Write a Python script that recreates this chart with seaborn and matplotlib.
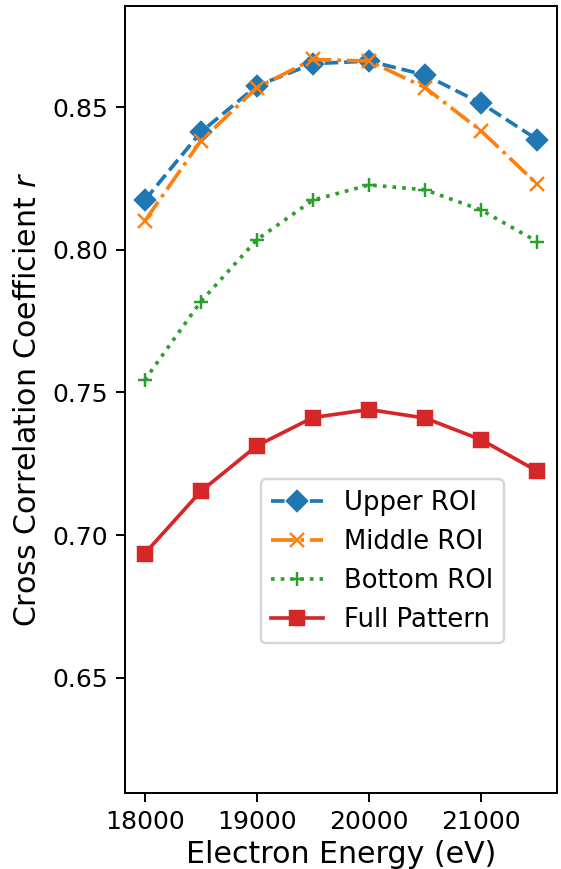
import matplotlib
matplotlib.use("Agg")
import matplotlib.pyplot as plt
import seaborn as sns

energy = [18000, 18500, 19000, 19500, 20000, 20500, 21000, 21500]
upper_roi = [0.8173, 0.8412, 0.8574, 0.8652, 0.8661, 0.8612, 0.8513, 0.8386]
middle_roi = [0.8100, 0.8381, 0.8568, 0.8667, 0.8661, 0.8568, 0.8416, 0.8229]
bottom_roi = [0.7543, 0.7818, 0.8035, 0.8174, 0.8227, 0.8210, 0.8139, 0.8028]
full_pattern = [0.6935, 0.7153, 0.7313, 0.7412, 0.7440, 0.7410, 0.7334, 0.7224]

series_names = ["Upper ROI", "Middle ROI", "Bottom ROI", "Full Pattern"]
series_vals = [upper_roi, middle_roi, bottom_roi, full_pattern]
colors = ["#1f77b4", "#ff7f0e", "#2ca02c", "#d62728"]
markers = ["D", "x", "+", "s"]
styles = ["--", "-.", ":", "-"]

DPI = 176
fig, ax = plt.subplots(figsize=(561 / DPI, 869 / DPI), dpi=DPI)
fig.subplots_adjust(left=125 / 561, right=557 / 561, bottom=(869 - 792.5) / 869, top=(869 - 6) / 869)

for name, vals, c, m, ls in zip(series_names, series_vals, colors, markers, styles):
    sns.lineplot(x=energy, y=vals, ax=ax, color=c, marker=m, linestyle=ls,
                 markersize=6, linewidth=1.5, label=name,
                 markeredgecolor=c, markeredgewidth=1.0)

ax.set_xlim(17825, 21675)
ax.set_ylim(0.6098, 0.8854)
ax.set_xticks([18000, 19000, 20000, 21000])
ax.set_yticks([0.65, 0.70, 0.75, 0.80, 0.85])
ax.tick_params(labelsize=10.3)
ax.set_xlabel("Electron Energy (eV)", fontsize=12.3, labelpad=2.5)
ax.set_ylabel("Cross Correlation Coefficient $r$", fontsize=12.3)
ax.legend(loc="lower left", bbox_to_anchor=(0.315, 0.19), borderaxespad=0, fontsize=10.6)

fig.savefig("out.png", dpi=DPI)
